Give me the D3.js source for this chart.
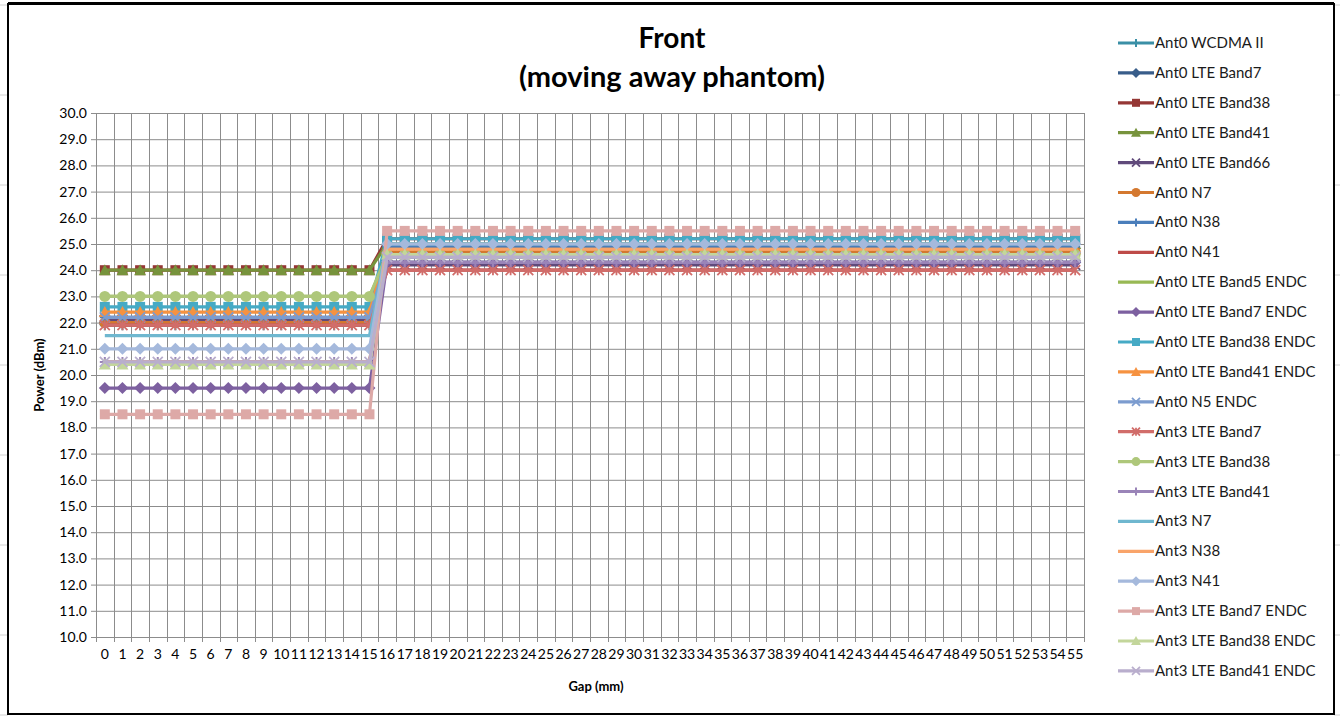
<!DOCTYPE html>
<html><head><meta charset="utf-8">
<script src="https://cdn.jsdelivr.net/npm/d3@7"></script>
<style>html,body{margin:0;padding:0;background:#fff;}svg{display:block;}</style>
</head><body><svg id="c" width="1340" height="717"></svg>
<script>
// ---- data ----
const gaps = [0,1,2,3,4,5,6,7,8,9,10,11,12,13,14,15,16,17,18,19,20,21,22,23,24,25,26,27,28,29,30,31,32,33,34,35,36,37,38,39,40,41,42,43,44,45,46,47,48,49,50,51,52,53,54,55];
const yTicks = [10,11,12,13,14,15,16,17,18,19,20,21,22,23,24,25,26,27,28,29,30];
const seriesNames = ["Ant0 WCDMA II","Ant0 LTE Band7","Ant0 LTE Band38","Ant0 LTE Band41","Ant0 LTE Band66","Ant0 N7","Ant0 N38","Ant0 N41","Ant0 LTE Band5 ENDC","Ant0 LTE Band7 ENDC","Ant0 LTE Band38 ENDC","Ant0 LTE Band41 ENDC","Ant0 N5 ENDC","Ant3 LTE Band7","Ant3 LTE Band38","Ant3 LTE Band41","Ant3 N7","Ant3 N38","Ant3 N41","Ant3 LTE Band7 ENDC","Ant3 LTE Band38 ENDC","Ant3 LTE Band41 ENDC"];

const ant0WcdmaII = [21.9,21.9,21.9,21.9,21.9,21.9,21.9,21.9,21.9,21.9,21.9,21.9,21.9,21.9,21.9,21.9,
 25.0,25.0,25.0,25.0,25.0,25.0,25.0,25.0,25.0,25.0,25.0,25.0,25.0,25.0,25.0,25.0,25.0,25.0,25.0,25.0,25.0,25.0,25.0,25.0,25.0,25.0,25.0,25.0,25.0,25.0,25.0,25.0,25.0,25.0,25.0,25.0,25.0,25.0,25.0,25.0];
const ant0LteBand7 = [22.0,22.0,22.0,22.0,22.0,22.0,22.0,22.0,22.0,22.0,22.0,22.0,22.0,22.0,22.0,22.0,
 24.3,24.3,24.3,24.3,24.3,24.3,24.3,24.3,24.3,24.3,24.3,24.3,24.3,24.3,24.3,24.3,24.3,24.3,24.3,24.3,24.3,24.3,24.3,24.3,24.3,24.3,24.3,24.3,24.3,24.3,24.3,24.3,24.3,24.3,24.3,24.3,24.3,24.3,24.3,24.3];
const ant0LteBand38 = [24.0,24.0,24.0,24.0,24.0,24.0,24.0,24.0,24.0,24.0,24.0,24.0,24.0,24.0,24.0,24.0,
 25.2,25.2,25.2,25.2,25.2,25.2,25.2,25.2,25.2,25.2,25.2,25.2,25.2,25.2,25.2,25.2,25.2,25.2,25.2,25.2,25.2,25.2,25.2,25.2,25.2,25.2,25.2,25.2,25.2,25.2,25.2,25.2,25.2,25.2,25.2,25.2,25.2,25.2,25.2,25.2];
const ant0LteBand41 = [24.0,24.0,24.0,24.0,24.0,24.0,24.0,24.0,24.0,24.0,24.0,24.0,24.0,24.0,24.0,24.0,
 25.0,25.0,25.0,25.0,25.0,25.0,25.0,25.0,25.0,25.0,25.0,25.0,25.0,25.0,25.0,25.0,25.0,25.0,25.0,25.0,25.0,25.0,25.0,25.0,25.0,25.0,25.0,25.0,25.0,25.0,25.0,25.0,25.0,25.0,25.0,25.0,25.0,25.0,25.0,25.0];
const ant0LteBand66 = [22.1,22.1,22.1,22.1,22.1,22.1,22.1,22.1,22.1,22.1,22.1,22.1,22.1,22.1,22.1,22.1,
 24.2,24.2,24.2,24.2,24.2,24.2,24.2,24.2,24.2,24.2,24.2,24.2,24.2,24.2,24.2,24.2,24.2,24.2,24.2,24.2,24.2,24.2,24.2,24.2,24.2,24.2,24.2,24.2,24.2,24.2,24.2,24.2,24.2,24.2,24.2,24.2,24.2,24.2,24.2,24.2];
const ant0N7 = [22.0,22.0,22.0,22.0,22.0,22.0,22.0,22.0,22.0,22.0,22.0,22.0,22.0,22.0,22.0,22.0,
 24.7,24.7,24.7,24.7,24.7,24.7,24.7,24.7,24.7,24.7,24.7,24.7,24.7,24.7,24.7,24.7,24.7,24.7,24.7,24.7,24.7,24.7,24.7,24.7,24.7,24.7,24.7,24.7,24.7,24.7,24.7,24.7,24.7,24.7,24.7,24.7,24.7,24.7,24.7,24.7];
const ant0N38 = [22.2,22.2,22.2,22.2,22.2,22.2,22.2,22.2,22.2,22.2,22.2,22.2,22.2,22.2,22.2,22.2,
 24.9,24.9,24.9,24.9,24.9,24.9,24.9,24.9,24.9,24.9,24.9,24.9,24.9,24.9,24.9,24.9,24.9,24.9,24.9,24.9,24.9,24.9,24.9,24.9,24.9,24.9,24.9,24.9,24.9,24.9,24.9,24.9,24.9,24.9,24.9,24.9,24.9,24.9,24.9,24.9];
const ant0N41 = [21.9,21.9,21.9,21.9,21.9,21.9,21.9,21.9,21.9,21.9,21.9,21.9,21.9,21.9,21.9,21.9,
 24.0,24.0,24.0,24.0,24.0,24.0,24.0,24.0,24.0,24.0,24.0,24.0,24.0,24.0,24.0,24.0,24.0,24.0,24.0,24.0,24.0,24.0,24.0,24.0,24.0,24.0,24.0,24.0,24.0,24.0,24.0,24.0,24.0,24.0,24.0,24.0,24.0,24.0,24.0,24.0];
const ant0LteBand5Endc = [23.0,23.0,23.0,23.0,23.0,23.0,23.0,23.0,23.0,23.0,23.0,23.0,23.0,23.0,23.0,23.0,
 24.5,24.5,24.5,24.5,24.5,24.5,24.5,24.5,24.5,24.5,24.5,24.5,24.5,24.5,24.5,24.5,24.5,24.5,24.5,24.5,24.5,24.5,24.5,24.5,24.5,24.5,24.5,24.5,24.5,24.5,24.5,24.5,24.5,24.5,24.5,24.5,24.5,24.5,24.5,24.5];
const ant0LteBand7Endc = [19.5,19.5,19.5,19.5,19.5,19.5,19.5,19.5,19.5,19.5,19.5,19.5,19.5,19.5,19.5,19.5,
 24.3,24.3,24.3,24.3,24.3,24.3,24.3,24.3,24.3,24.3,24.3,24.3,24.3,24.3,24.3,24.3,24.3,24.3,24.3,24.3,24.3,24.3,24.3,24.3,24.3,24.3,24.3,24.3,24.3,24.3,24.3,24.3,24.3,24.3,24.3,24.3,24.3,24.3,24.3,24.3];
const ant0LteBand38Endc = [22.6,22.6,22.6,22.6,22.6,22.6,22.6,22.6,22.6,22.6,22.6,22.6,22.6,22.6,22.6,22.6,
 25.2,25.2,25.2,25.2,25.2,25.2,25.2,25.2,25.2,25.2,25.2,25.2,25.2,25.2,25.2,25.2,25.2,25.2,25.2,25.2,25.2,25.2,25.2,25.2,25.2,25.2,25.2,25.2,25.2,25.2,25.2,25.2,25.2,25.2,25.2,25.2,25.2,25.2,25.2,25.2];
const ant0LteBand41Endc = [22.4,22.4,22.4,22.4,22.4,22.4,22.4,22.4,22.4,22.4,22.4,22.4,22.4,22.4,22.4,22.4,
 24.8,24.8,24.8,24.8,24.8,24.8,24.8,24.8,24.8,24.8,24.8,24.8,24.8,24.8,24.8,24.8,24.8,24.8,24.8,24.8,24.8,24.8,24.8,24.8,24.8,24.8,24.8,24.8,24.8,24.8,24.8,24.8,24.8,24.8,24.8,24.8,24.8,24.8,24.8,24.8];
const ant0N5Endc = [22.2,22.2,22.2,22.2,22.2,22.2,22.2,22.2,22.2,22.2,22.2,22.2,22.2,22.2,22.2,22.2,
 24.5,24.5,24.5,24.5,24.5,24.5,24.5,24.5,24.5,24.5,24.5,24.5,24.5,24.5,24.5,24.5,24.5,24.5,24.5,24.5,24.5,24.5,24.5,24.5,24.5,24.5,24.5,24.5,24.5,24.5,24.5,24.5,24.5,24.5,24.5,24.5,24.5,24.5,24.5,24.5];
const ant3LteBand7 = [21.9,21.9,21.9,21.9,21.9,21.9,21.9,21.9,21.9,21.9,21.9,21.9,21.9,21.9,21.9,21.9,
 24.0,24.0,24.0,24.0,24.0,24.0,24.0,24.0,24.0,24.0,24.0,24.0,24.0,24.0,24.0,24.0,24.0,24.0,24.0,24.0,24.0,24.0,24.0,24.0,24.0,24.0,24.0,24.0,24.0,24.0,24.0,24.0,24.0,24.0,24.0,24.0,24.0,24.0,24.0,24.0];
const ant3LteBand38 = [23.0,23.0,23.0,23.0,23.0,23.0,23.0,23.0,23.0,23.0,23.0,23.0,23.0,23.0,23.0,23.0,
 24.6,24.6,24.6,24.6,24.6,24.6,24.6,24.6,24.6,24.6,24.6,24.6,24.6,24.6,24.6,24.6,24.6,24.6,24.6,24.6,24.6,24.6,24.6,24.6,24.6,24.6,24.6,24.6,24.6,24.6,24.6,24.6,24.6,24.6,24.6,24.6,24.6,24.6,24.6,24.6];
const ant3LteBand41 = [20.5,20.5,20.5,20.5,20.5,20.5,20.5,20.5,20.5,20.5,20.5,20.5,20.5,20.5,20.5,20.5,
 24.3,24.3,24.3,24.3,24.3,24.3,24.3,24.3,24.3,24.3,24.3,24.3,24.3,24.3,24.3,24.3,24.3,24.3,24.3,24.3,24.3,24.3,24.3,24.3,24.3,24.3,24.3,24.3,24.3,24.3,24.3,24.3,24.3,24.3,24.3,24.3,24.3,24.3,24.3,24.3];
const ant3N7 = [21.5,21.5,21.5,21.5,21.5,21.5,21.5,21.5,21.5,21.5,21.5,21.5,21.5,21.5,21.5,21.5,
 25.0,25.0,25.0,25.0,25.0,25.0,25.0,25.0,25.0,25.0,25.0,25.0,25.0,25.0,25.0,25.0,25.0,25.0,25.0,25.0,25.0,25.0,25.0,25.0,25.0,25.0,25.0,25.0,25.0,25.0,25.0,25.0,25.0,25.0,25.0,25.0,25.0,25.0,25.0,25.0];
const ant3N38 = [20.5,20.5,20.5,20.5,20.5,20.5,20.5,20.5,20.5,20.5,20.5,20.5,20.5,20.5,20.5,20.5,
 24.8,24.8,24.8,24.8,24.8,24.8,24.8,24.8,24.8,24.8,24.8,24.8,24.8,24.8,24.8,24.8,24.8,24.8,24.8,24.8,24.8,24.8,24.8,24.8,24.8,24.8,24.8,24.8,24.8,24.8,24.8,24.8,24.8,24.8,24.8,24.8,24.8,24.8,24.8,24.8];
const ant3N41 = [21.0,21.0,21.0,21.0,21.0,21.0,21.0,21.0,21.0,21.0,21.0,21.0,21.0,21.0,21.0,21.0,
 25.0,25.0,25.0,25.0,25.0,25.0,25.0,25.0,25.0,25.0,25.0,25.0,25.0,25.0,25.0,25.0,25.0,25.0,25.0,25.0,25.0,25.0,25.0,25.0,25.0,25.0,25.0,25.0,25.0,25.0,25.0,25.0,25.0,25.0,25.0,25.0,25.0,25.0,25.0,25.0];
const ant3LteBand7Endc = [18.5,18.5,18.5,18.5,18.5,18.5,18.5,18.5,18.5,18.5,18.5,18.5,18.5,18.5,18.5,18.5,
 25.5,25.5,25.5,25.5,25.5,25.5,25.5,25.5,25.5,25.5,25.5,25.5,25.5,25.5,25.5,25.5,25.5,25.5,25.5,25.5,25.5,25.5,25.5,25.5,25.5,25.5,25.5,25.5,25.5,25.5,25.5,25.5,25.5,25.5,25.5,25.5,25.5,25.5,25.5,25.5];
const ant3LteBand38Endc = [20.4,20.4,20.4,20.4,20.4,20.4,20.4,20.4,20.4,20.4,20.4,20.4,20.4,20.4,20.4,20.4,
 24.6,24.6,24.6,24.6,24.6,24.6,24.6,24.6,24.6,24.6,24.6,24.6,24.6,24.6,24.6,24.6,24.6,24.6,24.6,24.6,24.6,24.6,24.6,24.6,24.6,24.6,24.6,24.6,24.6,24.6,24.6,24.6,24.6,24.6,24.6,24.6,24.6,24.6,24.6,24.6];
const ant3LteBand41Endc = [20.5,20.5,20.5,20.5,20.5,20.5,20.5,20.5,20.5,20.5,20.5,20.5,20.5,20.5,20.5,20.5,
 24.5,24.5,24.5,24.5,24.5,24.5,24.5,24.5,24.5,24.5,24.5,24.5,24.5,24.5,24.5,24.5,24.5,24.5,24.5,24.5,24.5,24.5,24.5,24.5,24.5,24.5,24.5,24.5,24.5,24.5,24.5,24.5,24.5,24.5,24.5,24.5,24.5,24.5,24.5,24.5];

const seriesValues = [ant0WcdmaII,ant0LteBand7,ant0LteBand38,ant0LteBand41,ant0LteBand66,ant0N7,ant0N38,ant0N41,ant0LteBand5Endc,ant0LteBand7Endc,ant0LteBand38Endc,ant0LteBand41Endc,ant0N5Endc,ant3LteBand7,ant3LteBand38,ant3LteBand41,ant3N7,ant3N38,ant3N41,ant3LteBand7Endc,ant3LteBand38Endc,ant3LteBand41Endc];

// ---- styles ----
const colors = ["#3A8FA6","#385D8A","#953735","#77933C","#604A7B","#D4782F","#4A7EBB","#BE4B48","#98B954","#7D60A0","#46AAC5","#F69240","#7C9CCF","#D16D6A","#AEC77A","#9A84B8","#6FB7CF","#F9A46A","#A5B9DC","#DDA9A7","#C3D69B","#B9AECD"];
const markers = ["plus","diamond","square","triangle","x","circle","plus","none","none","diamond","square","triangle","x","asterisk","circle","plus","none","none","diamond","square","triangle","x"];

const FONT = "Lato, 'Open Sans', sans-serif";
const svg = d3.select("#c");
svg.append("rect").attr("width",1340).attr("height",717).attr("fill","#fff");

// faint spreadsheet cell lines outside frame
const cellY = [5,95,185,275,365,455,545,635,715];
svg.append("g").selectAll("line").data(cellY).join("line")
  .attr("x1",0).attr("x2",8).attr("y1",d=>d).attr("y2",d=>d).attr("stroke","#d0d0d0");
svg.append("g").selectAll("line").data(cellY).join("line")
  .attr("x1",1334).attr("x2",1340).attr("y1",d=>d).attr("y2",d=>d).attr("stroke","#d0d0d0");

// frame
svg.append("rect").attr("x",8).attr("y",4).attr("width",1326).attr("height",710)
  .attr("fill","#fff").attr("stroke","#000").attr("stroke-width",2);
svg.append("line").attr("x1",8).attr("x2",1334).attr("y1",3.5).attr("y2",3.5).attr("stroke","#000").attr("stroke-width",3);

const X0=96, X1=1084, Y0=113, Y1=637;
const x = d3.scaleBand().domain(gaps).range([X0,X1]).paddingInner(0).paddingOuter(0);
const bw = x.bandwidth();
const xc = g => x(g)+bw/2;
const y = d3.scaleLinear().domain([10,30]).range([Y1,Y0]);

const grid = "#8c8c8c";
// horizontal grid
svg.append("g").attr("transform",`translate(${X0},0)`)
  .call(d3.axisLeft(y).tickValues(yTicks).tickSize(-(X1-X0)).tickFormat(""))
  .call(g=>g.select(".domain").remove())
  .call(g=>g.selectAll("line").attr("stroke",grid).attr("stroke-width",1));
// vertical grid at band boundaries
const bounds = gaps.map(g=>x(g)).concat([X1]);
svg.append("g").selectAll("line").data(bounds).join("line")
  .attr("x1",d=>Math.round(d)+0.5).attr("x2",d=>Math.round(d)+0.5)
  .attr("y1",Y0).attr("y2",Y1+5).attr("stroke",grid).attr("stroke-width",1);

// y axis
const yAxis = svg.append("g").attr("transform",`translate(${X0},0)`)
  .call(d3.axisLeft(y).tickValues(yTicks).tickSize(5).tickPadding(4).tickFormat(d=>d.toFixed(1)));
yAxis.select(".domain").attr("stroke",grid);
yAxis.selectAll("line").attr("stroke",grid);
yAxis.selectAll("text").attr("font-family",FONT).attr("font-size",14).attr("fill","#000");

// x axis
const xAxis = svg.append("g").attr("transform",`translate(0,${Y1})`)
  .call(d3.axisBottom(x).tickSize(0).tickPadding(12));
xAxis.select(".domain").attr("stroke",grid);
xAxis.selectAll("text").attr("font-family",FONT).attr("font-size",14).attr("fill","#000");

// axis titles
svg.append("text").attr("x",596).attr("y",691).attr("text-anchor","middle")
  .attr("font-family",FONT).attr("font-weight","bold").attr("font-size",13).text("Gap (mm)");
svg.append("text").attr("transform","translate(44,375) rotate(-90)").attr("text-anchor","middle")
  .attr("font-family",FONT).attr("font-weight","bold").attr("font-size",13).text("Power (dBm)");

// chart title
svg.append("text").attr("x",672).attr("y",48).attr("text-anchor","middle")
  .attr("font-family",FONT).attr("font-weight","bold").attr("font-size",28).text("Front");
svg.append("text").attr("x",672).attr("y",87).attr("text-anchor","middle")
  .attr("font-family",FONT).attr("font-weight","bold").attr("font-size",29).text("(moving away phantom)");

// markers
function drawMarker(g, type, cx, cy, color, s){
  const h=s/2;
  if(type==="square") g.append("rect").attr("x",cx-h).attr("y",cy-h).attr("width",s).attr("height",s).attr("fill",color);
  else if(type==="diamond") g.append("path").attr("d",`M${cx},${cy-h-1}L${cx+h+1},${cy}L${cx},${cy+h+1}L${cx-h-1},${cy}Z`).attr("fill",color);
  else if(type==="triangle") g.append("path").attr("d",`M${cx},${cy-h-1}L${cx+h+1},${cy+h}L${cx-h-1},${cy+h}Z`).attr("fill",color);
  else if(type==="circle") g.append("circle").attr("cx",cx).attr("cy",cy).attr("r",h+0.5).attr("fill",color);
  else if(type==="x") g.append("path").attr("d",`M${cx-h},${cy-h}L${cx+h},${cy+h}M${cx-h},${cy+h}L${cx+h},${cy-h}`).attr("stroke",color).attr("stroke-width",1.8).attr("fill","none");
  else if(type==="asterisk") g.append("path").attr("d",`M${cx-h},${cy-h}L${cx+h},${cy+h}M${cx-h},${cy+h}L${cx+h},${cy-h}M${cx},${cy-h}L${cx},${cy+h}`).attr("stroke",color).attr("stroke-width",1.8).attr("fill","none");
  else if(type==="plus") g.append("path").attr("d",`M${cx},${cy-h}L${cx},${cy+h}M${cx-h},${cy}L${cx+h},${cy}`).attr("stroke",color).attr("stroke-width",2).attr("fill","none");
}

const line = d3.line().x((d,i)=>xc(gaps[i])).y(d=>y(d));
const plot = svg.append("g");
seriesValues.forEach((vals,si)=>{
  const g = plot.append("g");
  g.append("path").attr("d",line(vals)).attr("fill","none").attr("stroke",colors[si]).attr("stroke-width",3.2).attr("stroke-linejoin","round");
  if(markers[si]!=="none") vals.forEach((v,i)=>drawMarker(g,markers[si],xc(gaps[i]),y(v),colors[si],10));
});

// legend
const lg = svg.append("g");
seriesNames.forEach((name,i)=>{
  const ly = 43 + i*29.9;
  lg.append("line").attr("x1",1118).attr("x2",1154).attr("y1",ly).attr("y2",ly).attr("stroke",colors[i]).attr("stroke-width",3.2);
  if(markers[i]!=="none") drawMarker(lg,markers[i],1136,ly,colors[i],8);
  lg.append("text").attr("x",1155).attr("y",ly+5).attr("font-family",FONT).attr("font-size",15).attr("fill","#1a1a1a").text(name);
});
</script></body></html>
